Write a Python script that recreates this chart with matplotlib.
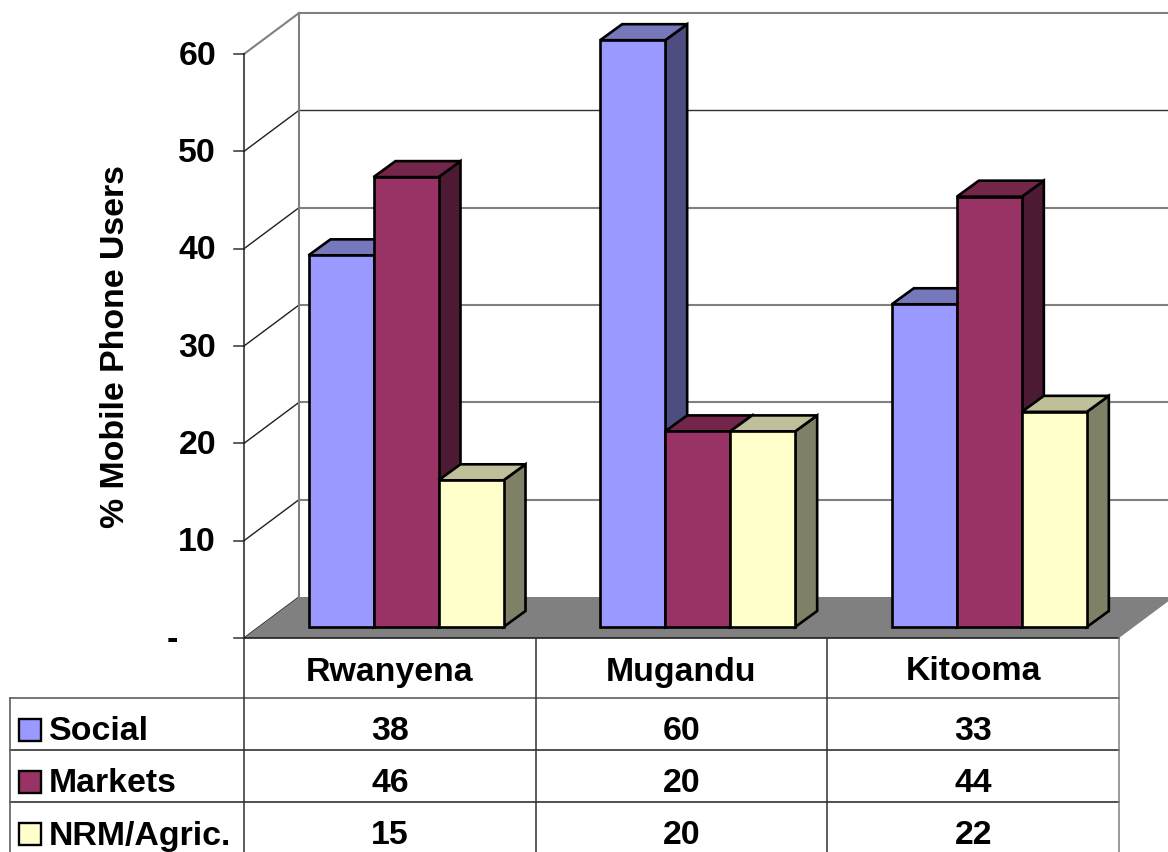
import matplotlib
matplotlib.use('Agg')
import matplotlib.pyplot as plt
from matplotlib.patches import Polygon, Rectangle

plt.rcParams['font.family'] = ['Liberation Sans', 'DejaVu Sans']

# survey data
sites = ['Rwanyena', 'Mugandu', 'Kitooma']
series = ['Social', 'Markets', 'NRM/Agric.']
social = [38, 60, 33]
markets = [46, 20, 44]
nrm = [15, 20, 22]
ticks = [0, 10, 20, 30, 40, 50, 60]
tick_labels = ['-', '10', '20', '30', '40', '50', '60']

front_col = ['#9999FF', '#993366', '#FFFFCC']
top_col = ['#7777BB', '#732649', '#BFBF99']
side_col = ['#4D4D80', '#4D1A33', '#808066']

# layout of the fake 3D box, in pixels
X0, X1 = 244, 1119
Y0, YSCALE = 638, 9.733
DX, DY = 55, -41
BAR_W, BAR_DX, BAR_DY = 65, 22, -16
BAR_BASE = 627
GROUP_W = (X1 - X0) / len(sites)
GRID = '#808080'
FS = 24.4


def val_y(v):
    return Y0 - v * YSCALE


def bar_h(v):
    return BAR_BASE - v * 9.78


fig = plt.figure(figsize=(11.68, 8.52), dpi=100)
ax = fig.add_axes([0, 0, 1, 1])
ax.set_xlim(0, 1168)
ax.set_ylim(852, 0)
ax.axis('off')

# back wall and side wall
for t in ticks:
    y = val_y(t)
    if t > 0:
        ax.plot([X0 + DX, 1168], [y + DY, y + DY], color='#303030' if t == 50 else GRID,
                lw=1.0 if t == 50 else 1.5, zorder=1)
    ax.plot([X0, X0 + DX], [y, y + DY], color=GRID if t == 60 else '#202020',
            lw=1.5 if t == 60 else 1.0, zorder=1)
    ax.plot([X0 - 10, X0], [y, y], color='#303030', lw=1.1, zorder=2)
    if t > 0:
        ax.text(X0 - 28, y + 2, tick_labels[t // 10], ha='right', va='center',
                fontsize=FS, fontweight='bold')
ax.text(172, Y0 + 2, tick_labels[0], ha='center', va='center', fontsize=FS, fontweight='bold')
ax.plot([X0 + DX, X0 + DX], [val_y(60) + DY, val_y(0) + DY], color=GRID, lw=1.5, zorder=1)
ax.plot([X0, X0], [val_y(60), Y0], color='#202020', lw=1.1, zorder=2)

# floor
ax.add_patch(Polygon([(X0, Y0), (X1, Y0), (X1 + DX, Y0 + DY), (X0 + DX, Y0 + DY)],
                     facecolor='#808080', edgecolor='none', zorder=2))

# bars, drawn left to right so each one hides the side of the previous
for i in range(len(sites)):
    left = X0 + GROUP_W * i + 64.5
    for j, vals in enumerate([social, markets, nrm]):
        xa = left + BAR_W * j
        xb = xa + BAR_W
        yt = bar_h(vals[i])
        kw = dict(edgecolor='black', lw=1.9, joinstyle='miter', zorder=3)
        ax.add_patch(Polygon([(xb, yt), (xb + BAR_DX, yt + BAR_DY),
                              (xb + BAR_DX, BAR_BASE + BAR_DY), (xb, BAR_BASE)],
                             facecolor=side_col[j], **kw))
        ax.add_patch(Polygon([(xa, yt), (xa + BAR_DX, yt + BAR_DY),
                              (xb + BAR_DX, yt + BAR_DY), (xb, yt)],
                             facecolor=top_col[j], **kw))
        ax.add_patch(Rectangle((xa, yt), BAR_W, BAR_BASE - yt, facecolor=front_col[j], **kw))

ax.text(116, 347, '% Mobile Phone Users', rotation=90, ha='center', va='center',
        fontsize=FS, fontweight='bold')

# data table below the plot
rows_y = [698, 750, 802]
ax.plot([X0, X1], [Y0, Y0], color='#202020', lw=1.2, zorder=4)
for k, y in enumerate(rows_y):
    ax.plot([10, X1], [y, y], color='#505050' if k == 0 else '#202020', lw=1.1, zorder=4)
ax.plot([10, 10], [698, 852], color='#606060', lw=1.2, zorder=4)
for i in range(len(sites) + 1):
    x = X0 + GROUP_W * i
    ax.plot([x, x], [Y0, 852], color='#808080' if i == len(sites) else '#303030', lw=1.1, zorder=4)

for i, name in enumerate(sites):
    cx = X0 + GROUP_W * (i + 0.5)
    ax.text(cx, 672, name, ha='center', va='center', fontsize=FS, fontweight='bold')
    for k, vals in enumerate([social, markets, nrm]):
        ax.text(cx, rows_y[k] + 33.5, str(vals[i]), ha='center', va='center',
                fontsize=FS, fontweight='bold')

for k, name in enumerate(series):
    ax.add_patch(Rectangle((18.5, rows_y[k] + 20.5), 22, 22, facecolor=front_col[k],
                           edgecolor='black', lw=1.7, zorder=5))
    ax.text(49, rows_y[k] + 34, name, ha='left', va='center', fontsize=FS, fontweight='bold')

fig.savefig('out.png', dpi=100)
